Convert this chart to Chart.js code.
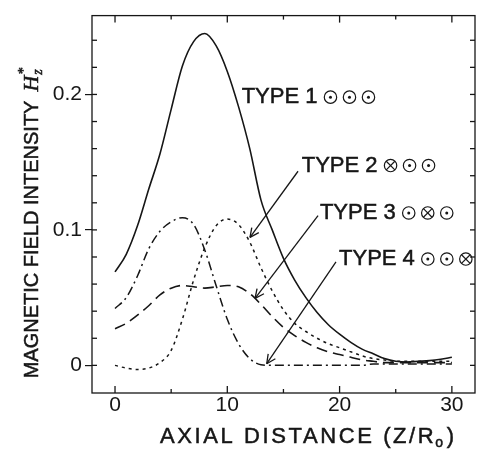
<!DOCTYPE html>
<html>
<head>
<meta charset="utf-8">
<script src="https://cdn.jsdelivr.net/npm/chart.js@4.4.0/dist/chart.umd.min.js"></script>
<style>
  html, body { margin: 0; padding: 0; background: #fff; }
</style>
</head>
<body>
<canvas id="grafico" width="483" height="450"></canvas>
<script>
// Data (Z/Ro, Hz*)
const distance = [0, 1, 2, 3, 4, 5, 6, 7, 8, 9, 10, 11, 12, 13, 14, 15, 16, 17, 18, 19, 20, 21, 22, 23, 24, 25, 26, 27, 28, 29, 30];
const type1 = [0.069, 0.082, 0.103, 0.130, 0.156, 0.189, 0.221, 0.239, 0.245, 0.236, 0.217, 0.191, 0.160, 0.122, 0.100, 0.079, 0.063, 0.050, 0.039, 0.030, 0.023, 0.017, 0.012, 0.0085, 0.005, 0.003, 0.0025, 0.003, 0.0035, 0.0045, 0.006];
const type2 = [0.000, -0.002, -0.003, -0.002, 0.002, 0.011, 0.034, 0.063, 0.087, 0.103, 0.108, 0.104, 0.091, 0.072, 0.055, 0.041, 0.031, 0.025, 0.020, 0.016, 0.013, 0.010, 0.007, 0.005, 0.004, 0.003, 0.003, 0.003, 0.003, 0.003, 0.003];
const type3 = [0.027, 0.031, 0.037, 0.044, 0.052, 0.057, 0.059, 0.058, 0.057, 0.058, 0.059, 0.058, 0.053, 0.045, 0.036, 0.028, 0.022, 0.017, 0.013, 0.010, 0.008, 0.006, 0.004, 0.003, 0.002, 0.002, 0.002, 0.002, 0.002, 0.002, 0.002];
const type4 = [0.042, 0.050, 0.066, 0.086, 0.099, 0.106, 0.109, 0.104, 0.085, 0.059, 0.034, 0.016, 0.005, 0.0005, 0.000, 0.000, 0.000, 0.000, 0.000, 0.000, 0.000, 0.000, 0.000, 0.001, 0.001, 0.001, 0.001, 0.001, 0.001, 0.001, 0.001];

const typeNames = ["TYPE 1", "TYPE 2", "TYPE 3", "TYPE 4"];
const coilSymbols = ["ooo", "xoo", "oxo", "oox"]; // o = dot, x = cross

const xTicks = [0, 10, 20, 30];
const xMinorTicks = [5, 15, 25];
const yTicks = [0, 0.1, 0.2];
const yMinorTicks = [0.02, 0.04, 0.06, 0.08, 0.12, 0.14, 0.16, 0.18, 0.22, 0.24];

const INK = "#161616";
const SANS = "'Liberation Sans', Arial, sans-serif";

function pts(ys) {
  return distance.map((d, i) => ({ x: d, y: ys[i] }));
}

// where the labels and arrows sit (axis units)
const labelSpots = [
  { x: 11.28, y: 0.198 },
  { x: 16.63, y: 0.1475, from: [16.3, 0.1433], to: [12.02, 0.0945] },
  { x: 18.25, y: 0.1125, from: [18.08, 0.1105], to: [12.47, 0.0495] },
  { x: 19.95, y: 0.0785, from: [19.68, 0.0764], to: [13.51, 0.0012] },
];

function line(ctx, x1, y1, x2, y2) {
  ctx.beginPath();
  ctx.moveTo(x1, y1);
  ctx.lineTo(x2, y2);
  ctx.stroke();
}

function inkText(ctx, txt, x, y) {
  ctx.fillText(txt, x, y);
  ctx.lineWidth = 0.5;
  ctx.strokeText(txt, x, y);
}

function coil(ctx, cx, cy, kind) {
  ctx.lineWidth = 1.2;
  ctx.beginPath();
  ctx.arc(cx, cy, 6.2, 0, Math.PI * 2);
  ctx.stroke();
  if (kind === "o") {
    ctx.beginPath();
    ctx.arc(cx, cy, 1.5, 0, Math.PI * 2);
    ctx.fill();
  } else {
    const d = 4.3;
    line(ctx, cx - d, cy - d, cx + d, cy + d);
    line(ctx, cx - d, cy + d, cx + d, cy - d);
  }
}

// frame with inward ticks, labels, arrows, axis titles
const framePlugin = {
  id: "frame",
  afterDraw(chart) {
    const { ctx, chartArea: a, scales } = chart;
    const sx = scales.x, sy = scales.y;
    ctx.save();
    ctx.strokeStyle = INK;
    ctx.fillStyle = INK;
    ctx.lineWidth = 1.3;
    ctx.strokeRect(a.left, a.top, a.right - a.left, a.bottom - a.top);

    xTicks.forEach((v) => {
      const p = sx.getPixelForValue(v);
      line(ctx, p, a.bottom, p, a.bottom - 7);
      line(ctx, p, a.top, p, a.top + 7);
    });
    xMinorTicks.forEach((v) => {
      const p = sx.getPixelForValue(v);
      line(ctx, p, a.bottom, p, a.bottom - 4);
      line(ctx, p, a.top, p, a.top + 4);
    });
    yTicks.concat(yMinorTicks).forEach((v) => {
      const p = sy.getPixelForValue(v);
      line(ctx, a.left, p, a.left + 5, p);
      line(ctx, a.right, p, a.right - 5, p);
    });

    // curve labels
    ctx.font = "22px " + SANS;
    ctx.textBaseline = "middle";
    ctx.textAlign = "left";
    labelSpots.forEach((s, i) => {
      const px = sx.getPixelForValue(s.x);
      const py = sy.getPixelForValue(s.y);
      inkText(ctx, typeNames[i], px, py);
      const w = ctx.measureText(typeNames[i]).width;
      coilSymbols[i].split("").forEach((k, j) => {
        coil(ctx, px + w + 13 + j * 19, py, k);
      });
      if (s.from) {
        const x1 = sx.getPixelForValue(s.from[0]), y1 = sy.getPixelForValue(s.from[1]);
        const x2 = sx.getPixelForValue(s.to[0]), y2 = sy.getPixelForValue(s.to[1]);
        ctx.lineWidth = 1.3;
        line(ctx, x1, y1, x2, y2);
        const ang = Math.atan2(y1 - y2, x1 - x2);
        [0.45, -0.45].forEach((da) => {
          line(ctx, x2, y2, x2 + 10 * Math.cos(ang + da), y2 + 10 * Math.sin(ang + da));
        });
      }
    });

    // x axis title
    ctx.textBaseline = "alphabetic";
    ctx.letterSpacing = "2.6px";
    let tx = sx.getPixelForValue(4.0);
    const ty = 443;
    ctx.font = "22px " + SANS;
    inkText(ctx, "AXIAL DISTANCE (Z/R", tx, ty);
    tx += ctx.measureText("AXIAL DISTANCE (Z/R").width;
    ctx.font = "14px " + SANS;
    inkText(ctx, "o", tx - 1, ty + 4);
    tx += ctx.measureText("o").width;
    ctx.font = "22px " + SANS;
    inkText(ctx, ")", tx, ty);
    ctx.letterSpacing = "0px";

    // y axis title
    ctx.translate(32, sy.getPixelForValue(0) + 13);
    ctx.rotate(-Math.PI / 2);
    ctx.textBaseline = "middle";
    ctx.font = "20px " + SANS;
    inkText(ctx, "MAGNETIC FIELD INTENSITY", 0, 0);
    let ox = ctx.measureText("MAGNETIC FIELD INTENSITY").width + 9;
    ctx.font = "italic 22px 'Liberation Serif', serif";
    inkText(ctx, "H", ox, 0);
    ox += ctx.measureText("H").width + 1;
    ctx.font = "italic 14px 'Liberation Serif', serif";
    inkText(ctx, "*", ox, -8);
    inkText(ctx, "z", ox, 6);
    ctx.restore();
  },
};

new Chart(document.getElementById("grafico"), {
  type: "line",
  data: {
    datasets: [
      { label: typeNames[0], data: pts(type1), borderColor: INK, borderWidth: 1.6 },
      { label: typeNames[1], data: pts(type2), borderColor: INK, borderWidth: 1.5, borderDash: [3, 4] },
      { label: typeNames[2], data: pts(type3), borderColor: INK, borderWidth: 1.6, borderDash: [11, 6] },
      { label: typeNames[3], data: pts(type4), borderColor: INK, borderWidth: 1.5, borderDash: [9, 4, 2, 4] },
    ],
  },
  options: {
    responsive: false,
    animation: false,
    devicePixelRatio: 1,
    layout: { padding: { top: 10, right: 8, left: 0, bottom: 0 } },
    elements: { point: { radius: 0 }, line: { cubicInterpolationMode: "monotone" } },
    plugins: { legend: { display: false }, tooltip: { enabled: false } },
    scales: {
      x: {
        type: "linear",
        min: -2.05,
        max: 32.06,
        afterBuildTicks: (s) => { s.ticks = xTicks.map((v) => ({ value: v })); },
        afterFit: (s) => { s.height = 57; },
        grid: { display: false, drawTicks: false },
        border: { display: false },
        ticks: { color: INK, padding: 0, font: { family: SANS, size: 21 }, maxRotation: 0 },
      },
      y: {
        min: -0.0204,
        max: 0.2582,
        afterBuildTicks: (s) => { s.ticks = yTicks.map((v) => ({ value: v })); },
        afterFit: (s) => { s.width = 92; },
        grid: { drawOnChartArea: false, drawTicks: true, tickLength: 7, color: INK, lineWidth: 1.2 },
        border: { display: false },
        ticks: {
          color: INK,
          padding: 3,
          font: { family: SANS, size: 21 },
          callback: (v) => (v === 0 ? "0" : String(Number(v.toFixed(1)))),
        },
      },
    },
  },
  plugins: [framePlugin],
});
</script>
</body>
</html>
